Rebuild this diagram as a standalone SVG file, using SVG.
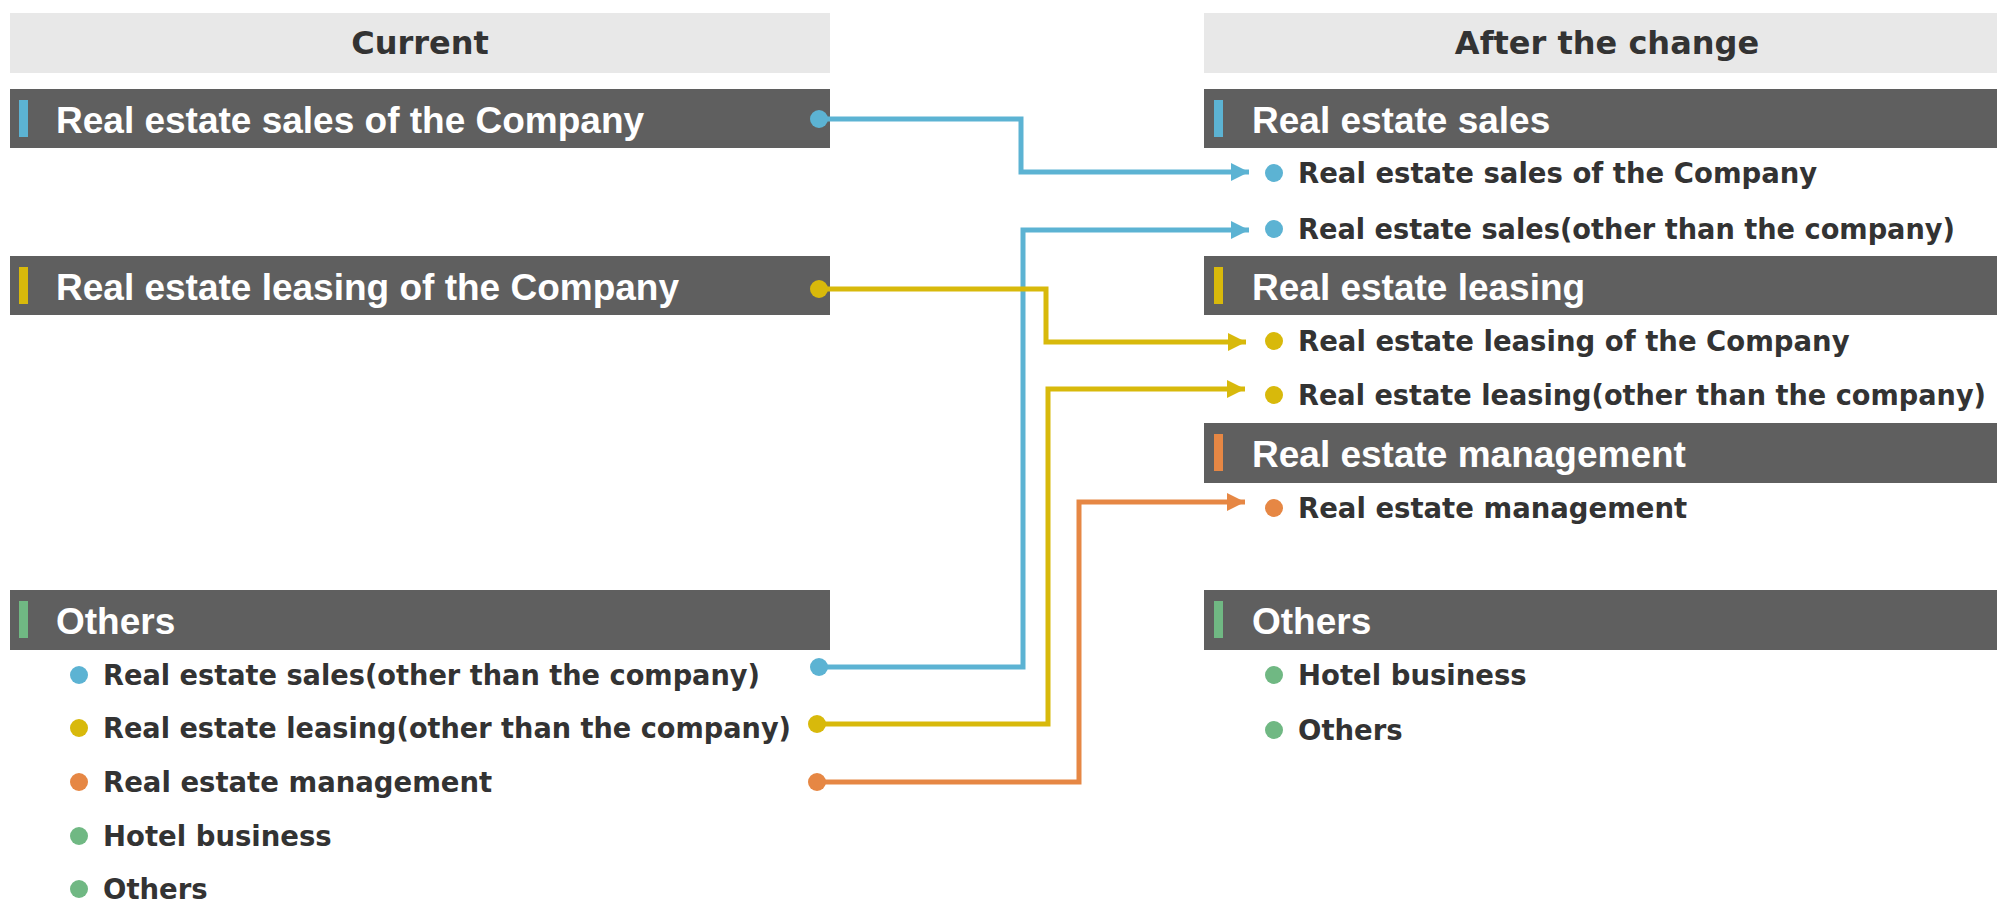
<svg xmlns="http://www.w3.org/2000/svg" width="1997" height="903" viewBox="0 0 1997 903">
  <defs>
    <style>
      .colhead { fill: #e8e8e8; }
      .colhead-text { font-family: "DejaVu Sans", "Liberation Sans", sans-serif; font-weight: bold; font-size: 32px; fill: #333333; text-anchor: middle; }
      .bar { fill: #5f5f5f; }
      .bar-text { font-family: "Liberation Sans", Arial, sans-serif; font-weight: bold; font-size: 37px; fill: #ffffff; }
      .item { font-family: "DejaVu Sans", "Liberation Sans", sans-serif; font-weight: bold; font-size: 27.5px; fill: #333333; }
      .blue { fill: #5cb3d3; }
      .yellow { fill: #d8b90b; }
      .orange { fill: #e68744; }
      .green { fill: #70b883; }
      .wire { fill: none; stroke-width: 5; }
      .wire.blue { stroke: #5cb3d3; fill: none; }
      .wire.yellow { stroke: #d8b90b; fill: none; }
      .wire.orange { stroke: #e68744; fill: none; }
    </style>
    <marker id="arrow-blue" viewBox="0 0 18 18" refX="18" refY="9" markerWidth="18" markerHeight="18" markerUnits="userSpaceOnUse" orient="auto">
      <path d="M0 0 L18 9 L0 18 Z" fill="#5cb3d3"/>
    </marker>
    <marker id="arrow-yellow" viewBox="0 0 18 18" refX="18" refY="9" markerWidth="18" markerHeight="18" markerUnits="userSpaceOnUse" orient="auto">
      <path d="M0 0 L18 9 L0 18 Z" fill="#d8b90b"/>
    </marker>
    <marker id="arrow-orange" viewBox="0 0 18 18" refX="18" refY="9" markerWidth="18" markerHeight="18" markerUnits="userSpaceOnUse" orient="auto">
      <path d="M0 0 L18 9 L0 18 Z" fill="#e68744"/>
    </marker>
  </defs>

  <rect width="1997" height="903" fill="#ffffff"/>

  <!-- Column headings -->
  <g id="heading-current">
    <rect class="colhead" x="10" y="13" width="820" height="60"/>
    <text class="colhead-text" x="420" y="54">Current</text>
  </g>
  <g id="heading-after">
    <rect class="colhead" x="1204" y="13" width="793" height="60"/>
    <text class="colhead-text" x="1607" y="54">After the change</text>
  </g>

  <!-- Current segments -->
  <g id="cur-sales">
    <rect class="bar" x="10" y="89" width="820" height="59"/>
    <rect class="blue" x="19" y="100" width="9" height="37"/>
    <text class="bar-text" x="56" y="133">Real estate sales of the Company</text>
  </g>
  <g id="cur-leasing">
    <rect class="bar" x="10" y="256" width="820" height="59"/>
    <rect class="yellow" x="19" y="267" width="9" height="37"/>
    <text class="bar-text" x="56" y="300">Real estate leasing of the Company</text>
  </g>
  <g id="cur-others">
    <rect class="bar" x="10" y="590" width="820" height="60"/>
    <rect class="green" x="19" y="601" width="9" height="37"/>
    <text class="bar-text" x="56" y="634">Others</text>
    <circle class="blue" cx="79" cy="675" r="9"/>
    <text class="item" x="103" y="685" textLength="657" lengthAdjust="spacingAndGlyphs">Real estate sales(other than the company)</text>
    <circle class="yellow" cx="79" cy="728" r="9"/>
    <text class="item" x="103" y="738" textLength="688" lengthAdjust="spacingAndGlyphs">Real estate leasing(other than the company)</text>
    <circle class="orange" cx="79" cy="782" r="9"/>
    <text class="item" x="103" y="792">Real estate management</text>
    <circle class="green" cx="79" cy="836" r="9"/>
    <text class="item" x="103" y="846">Hotel business</text>
    <circle class="green" cx="79" cy="889" r="9"/>
    <text class="item" x="103" y="899">Others</text>
  </g>

  <!-- Segments after the change -->
  <g id="new-sales">
    <rect class="bar" x="1204" y="89" width="793" height="59"/>
    <rect class="blue" x="1214" y="100" width="9" height="37"/>
    <text class="bar-text" x="1252" y="133">Real estate sales</text>
    <circle class="blue" cx="1274" cy="173" r="9"/>
    <text class="item" x="1298" y="183">Real estate sales of the Company</text>
    <circle class="blue" cx="1274" cy="229" r="9"/>
    <text class="item" x="1298" y="239" textLength="657" lengthAdjust="spacingAndGlyphs">Real estate sales(other than the company)</text>
  </g>
  <g id="new-leasing">
    <rect class="bar" x="1204" y="256" width="793" height="59"/>
    <rect class="yellow" x="1214" y="267" width="9" height="37"/>
    <text class="bar-text" x="1252" y="300">Real estate leasing</text>
    <circle class="yellow" cx="1274" cy="341" r="9"/>
    <text class="item" x="1298" y="351">Real estate leasing of the Company</text>
    <circle class="yellow" cx="1274" cy="395" r="9"/>
    <text class="item" x="1298" y="405" textLength="688" lengthAdjust="spacingAndGlyphs">Real estate leasing(other than the company)</text>
  </g>
  <g id="new-management">
    <rect class="bar" x="1204" y="423" width="793" height="60"/>
    <rect class="orange" x="1214" y="434" width="9" height="37"/>
    <text class="bar-text" x="1252" y="467">Real estate management</text>
    <circle class="orange" cx="1274" cy="508" r="9"/>
    <text class="item" x="1298" y="518">Real estate management</text>
  </g>
  <g id="new-others">
    <rect class="bar" x="1204" y="590" width="793" height="60"/>
    <rect class="green" x="1214" y="601" width="9" height="37"/>
    <text class="bar-text" x="1252" y="634">Others</text>
    <circle class="green" cx="1274" cy="675" r="9"/>
    <text class="item" x="1298" y="685">Hotel business</text>
    <circle class="green" cx="1274" cy="730" r="9"/>
    <text class="item" x="1298" y="740">Others</text>
  </g>

  <!-- Connectors: old segment -> new segment -->
  <g id="connectors">
    <path class="wire blue" d="M819 119 H1021 V172 H1249" marker-end="url(#arrow-blue)"/>
    <circle class="blue" cx="819" cy="119" r="9"/>
    <path class="wire blue" d="M819 667 H1023 V230 H1249" marker-end="url(#arrow-blue)"/>
    <circle class="blue" cx="819" cy="667" r="9"/>
    <path class="wire yellow" d="M819 289 H1046 V342 H1246" marker-end="url(#arrow-yellow)"/>
    <circle class="yellow" cx="819" cy="289" r="9"/>
    <path class="wire yellow" d="M817 724 H1048 V389 H1245" marker-end="url(#arrow-yellow)"/>
    <circle class="yellow" cx="817" cy="724" r="9"/>
    <path class="wire orange" d="M817 782 H1079 V502 H1245" marker-end="url(#arrow-orange)"/>
    <circle class="orange" cx="817" cy="782" r="9"/>
  </g>
</svg>
